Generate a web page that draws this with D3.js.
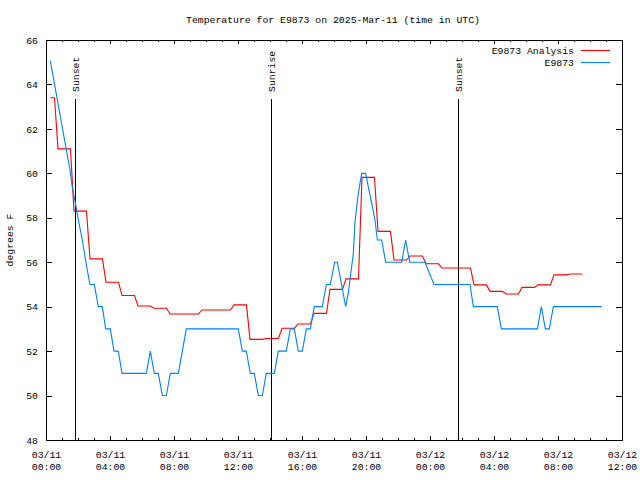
<!DOCTYPE html>
<html>
<head>
<meta charset="utf-8">
<script src="https://cdn.jsdelivr.net/npm/d3@7"></script>
<style>
body { margin: 0; background: #fff; }
text { font-family: "Liberation Mono", "DejaVu Sans Mono", monospace; font-size: 9.8px; fill: #000; }
</style>
</head>
<body>
<div id="chart"></div>
<script>
// hours counted from 03/11 00:00 UTC
const xTickHours = [0, 4, 8, 12, 16, 20, 24, 28, 32, 36];
const xTickDates = ['03/11', '03/11', '03/11', '03/11', '03/11', '03/11', '03/12', '03/12', '03/12', '03/12'];
const xTickTimes = ['00:00', '04:00', '08:00', '12:00', '16:00', '20:00', '00:00', '04:00', '08:00', '12:00'];
const yTicks = [48, 50, 52, 54, 56, 58, 60, 62, 64, 66];

const sunHours = [1.83, 14.06, 25.77];
const sunLabels = ['Sunset', 'Sunrise', 'Sunset'];

// E9873 Analysis, one value per hour
const analysisHours = [0, 1, 2, 3, 4, 5, 6, 7, 8, 9, 10, 11, 12, 13, 14, 15, 16,
    17, 18, 19, 20, 21, 22, 23, 24, 25, 26, 27, 28, 29, 30, 31, 32, 33];
const analysisTemps = [63.4, 61.1, 58.3, 56.15, 55.1, 54.5, 54.03, 53.93, 53.67, 53.67, 53.85, 53.85,
    54.08, 52.53, 52.57, 53.03, 53.22, 53.7, 54.78, 55.25, 59.82, 57.39, 56.1, 56.28,
    55.93, 55.74, 55.74, 54.98, 54.69, 54.57, 54.87, 54.98, 55.43, 55.47];

// E9873 observations
const obsHours = [0.27, 1.5, 1.64, 1.86, 1.98, 2.27, 2.54, 2.75, 3.02, 3.17, 3.27, 3.52, 3.73, 4.02,
    4.25, 4.52, 4.75, 6.27, 6.52, 6.77, 7.02, 7.27, 7.52, 7.77, 8.27, 8.77, 12.02, 12.27, 12.52,
    12.77, 13.02, 13.27, 13.52, 13.77, 14.27, 14.52, 15.02, 15.27, 15.52, 15.77, 16.02, 16.27,
    16.52, 16.77, 17.27, 17.52, 17.77, 18.04, 18.21, 18.73, 18.89, 19.21, 19.31, 19.52, 19.73,
    19.98, 20.14, 20.36, 20.56, 20.71, 20.98, 21.13, 21.23, 22.23, 22.48, 22.73, 23.69, 24.25,
    26.5, 26.71, 28.21, 28.46, 30.71, 30.96, 31.21, 31.46, 31.71, 34.73];
const obsTemps = [65.06, 60.15, 59.4, 58.57, 58.05, 57.0, 55.8, 55.0, 55.0, 54.4, 54.0, 54.0, 53.0, 53.0,
    52.0, 52.0, 51.0, 51.0, 52.0, 51.0, 51.0, 50.0, 50.0, 51.0, 51.0, 53.0, 53.0, 52.0, 52.0,
    51.0, 51.0, 50.0, 50.0, 51.0, 51.0, 52.0, 52.0, 53.0, 53.0, 52.0, 52.0, 53.0,
    53.0, 54.0, 54.0, 55.0, 55.0, 56.0, 56.0, 54.0, 54.6, 56.4, 57.8, 59.1, 60.0,
    60.0, 59.4, 58.65, 57.9, 57.0, 57.0, 56.4, 56.0, 56.0, 57.0, 56.0, 56.0, 55.0,
    55.0, 54.0, 54.0, 53.0, 53.0, 54.0, 53.0, 53.0, 54.0, 54.0];

const red = '#ff0000';
const blue = '#0080ff';

const svg = d3.select('#chart').append('svg')
    .attr('width', 640)
    .attr('height', 480);

const x = d3.scaleLinear().domain([0, 36]).range([46, 622]);
const y = d3.scaleLinear().domain([48, 66]).range([440, 40]);

svg.append('text')
    .attr('x', 333).attr('y', 23)
    .attr('text-anchor', 'middle')
    .text('Temperature for E9873 on 2025-Mar-11 (time in UTC)');

svg.append('text')
    .attr('transform', 'translate(13,240) rotate(-90)')
    .attr('text-anchor', 'middle')
    .text('degrees F');

// axes, ticks pointing inwards
const hourTicks = d3.range(0, 37);
svg.append('g').attr('transform', 'translate(0,440)')
    .call(d3.axisBottom(x).tickValues(hourTicks).tickSize(-2).tickFormat(''));
svg.append('g').attr('transform', 'translate(0,40)')
    .call(d3.axisTop(x).tickValues(hourTicks).tickSize(-2).tickFormat(''));
svg.append('g').attr('transform', 'translate(0,40)')
    .call(d3.axisTop(x).tickValues(xTickHours).tickSize(-4).tickFormat(''));

const xAxis = svg.append('g').attr('transform', 'translate(0,440)')
    .call(d3.axisBottom(x).tickValues(xTickHours).tickSize(-4).tickFormat(''));
xAxis.selectAll('.tick').append('text')
    .attr('text-anchor', 'middle')
    .attr('y', 18)
    .text((d, i) => xTickDates[i]);
xAxis.selectAll('.tick').append('text')
    .attr('text-anchor', 'middle')
    .attr('y', 30)
    .text((d, i) => xTickTimes[i]);

const yAxis = svg.append('g').attr('transform', 'translate(46,0)')
    .call(d3.axisLeft(y).tickValues(yTicks).tickSize(-6).tickPadding(8));
svg.append('g').attr('transform', 'translate(622,0)')
    .call(d3.axisRight(y).tickValues(yTicks).tickSize(-6).tickFormat(''));

svg.selectAll('.domain').remove();
svg.selectAll('.tick line').attr('stroke', '#000').attr('shape-rendering', 'crispEdges');
svg.selectAll('.tick text').attr('fill', '#000');
svg.selectAll('g').attr('font-family', null).attr('font-size', null);

svg.append('rect')
    .attr('x', 46.5).attr('y', 40.5)
    .attr('width', 576).attr('height', 400)
    .attr('fill', 'none')
    .attr('stroke', '#000')
    .attr('shape-rendering', 'crispEdges');

// sunrise / sunset markers
for (let i = 0; i < sunHours.length; i++) {
    let sx = Math.round(x(sunHours[i])) + 0.5;
    svg.append('line')
        .attr('x1', sx).attr('x2', sx)
        .attr('y1', 99).attr('y2', 440)
        .attr('stroke', '#000')
        .attr('shape-rendering', 'crispEdges');
    svg.append('text')
        .attr('transform', 'translate(' + (sx + 3.5) + ',92) rotate(-90)')
        .attr('text-anchor', 'start')
        .text(sunLabels[i]);
}

// analysis: each hourly value held, then a short ramp to the next
const analysisPts = [];
for (let i = 0; i < analysisHours.length; i++) {
    let t = analysisHours[i];
    analysisPts.push([Math.max(t - 0.25, obsHours[0]), analysisTemps[i]]);
    analysisPts.push([t + 0.53, analysisTemps[i]]);
}

const line = d3.line().x(d => x(d[0])).y(d => y(d[1]));

svg.append('path')
    .attr('d', line(analysisPts))
    .attr('fill', 'none')
    .attr('stroke', red)
    .attr('stroke-width', 1.1);

svg.append('path')
    .attr('d', line(obsHours.map((h, i) => [h, obsTemps[i]])))
    .attr('fill', 'none')
    .attr('stroke', blue)
    .attr('stroke-width', 1.1);

// legend
const legend = [['E9873 Analysis', red], ['E9873', blue]];
legend.forEach((l, i) => {
    let ly = 50.5 + i * 12;
    svg.append('text')
        .attr('x', 574).attr('y', ly + 3.5)
        .attr('text-anchor', 'end')
        .text(l[0]);
    svg.append('line')
        .attr('x1', 581).attr('x2', 610)
        .attr('y1', ly).attr('y2', ly)
        .attr('stroke', l[1])
        .attr('stroke-width', 1.1);
});
</script>
</body>
</html>
